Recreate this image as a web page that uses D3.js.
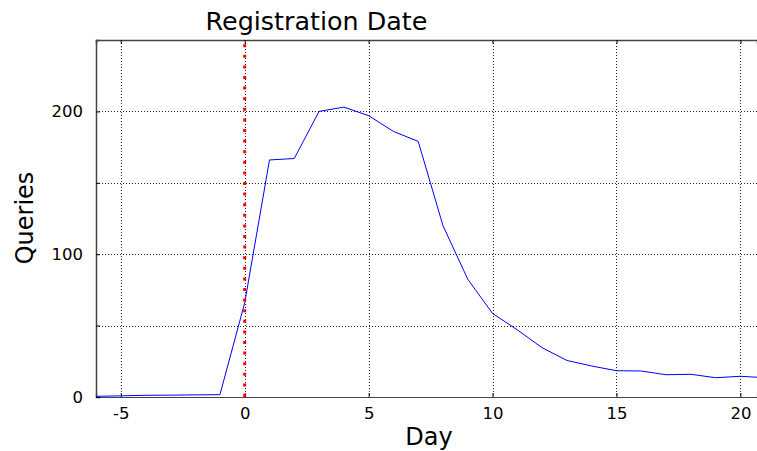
<!DOCTYPE html>
<html>
<head>
<meta charset="utf-8">
<script src="https://cdn.jsdelivr.net/npm/d3@7"></script>
<style>
  html, body { margin: 0; padding: 0; background: #fff; }
  svg { display: block; font-family: "DejaVu Sans", sans-serif; }
</style>
</head>
<body>
<svg id="chart" width="757" height="451"></svg>
<script>
// Data
const days = [-6, -5, -4, -3, -2, -1, 0, 1, 2, 3, 4, 5, 6, 7, 8, 9, 10, 11, 12, 13, 14, 15, 16, 17, 18, 19, 20, 21];
const queries = [0.5, 0.8, 1.2, 1.3, 1.5, 1.6, 66, 166, 167, 200, 203, 197, 186, 179, 120, 82.5, 58.5, 47, 34.5, 25.6, 21.7, 18.4, 18.2, 15.6, 15.9, 13.5, 14.5, 13.5];
const xTicks = [-5, 0, 5, 10, 15, 20];
const yTicks = [0, 50, 100, 150, 200];
const yTickLabels = ["0", "", "100", "", "200"];
const registrationDay = 0;
const xDomain = [-6, 20.67];
const yDomain = [0, 250];

const svg = d3.select("#chart");
const L = 96, R = 757, T = 40, B = 397;

const x = d3.scaleLinear().domain(xDomain).range([L, R]);
const y = d3.scaleLinear().domain(yDomain).range([B, T]);

svg.append("defs").append("clipPath").attr("id", "clip")
  .append("rect").attr("x", L).attr("y", T).attr("width", R - L).attr("height", B - T);

// Grid
const grid = svg.append("g");
grid.selectAll(".vg").data(xTicks).join("line")
  .attr("x1", d => Math.round(x(d)) + 0.5).attr("x2", d => Math.round(x(d)) + 0.5)
  .attr("y1", T).attr("y2", B)
  .attr("stroke", "#222").attr("stroke-width", 1).attr("stroke-dasharray", "1,2");
grid.selectAll(".hg").data(yTicks).join("line")
  .attr("x1", L).attr("x2", R)
  .attr("y1", d => Math.round(y(d)) + 0.5).attr("y2", d => Math.round(y(d)) + 0.5)
  .attr("stroke", "#222").attr("stroke-width", 1).attr("stroke-dasharray", "1,2");

// Axes (inward ticks)
const xAxisB = d3.axisBottom(x).tickValues(xTicks).tickSize(-4).tickPadding(10)
  .tickFormat(d => d3.format("d")(d).replace("−", "-"));
const gx = svg.append("g").attr("transform", `translate(0,${B})`).call(xAxisB);
gx.select(".domain").attr("stroke", "#444").attr("stroke-width", 1.2);
gx.selectAll(".tick line").attr("stroke", "#000");
gx.selectAll(".tick text").attr("font-size", 16.5).attr("fill", "#000")
  .attr("font-family", "DejaVu Sans");

const xAxisT = d3.axisTop(x).tickValues(xTicks).tickSize(-4).tickFormat("");
const gxt = svg.append("g").attr("transform", `translate(0,${T})`).call(xAxisT);
gxt.select(".domain").attr("stroke", "#444").attr("stroke-width", 1.5);
gxt.selectAll(".tick line").attr("stroke", "#000");

const yAxisL = d3.axisLeft(y).tickValues(yTicks).tickSize(-4).tickPadding(13)
  .tickFormat((d, i) => yTickLabels[i]);
const gy = svg.append("g").attr("transform", `translate(${L},0)`).call(yAxisL);
gy.select(".domain").attr("stroke", "#444").attr("stroke-width", 1.5);
gy.selectAll(".tick line").attr("stroke", "#000");
gy.selectAll(".tick text").attr("font-size", 16.5).attr("fill", "#000")
  .attr("font-family", "DejaVu Sans");

// Data line
const line = d3.line().x(d => x(d[0])).y(d => y(d[1]));
svg.append("path")
  .datum(days.map((d, i) => [d, queries[i]]))
  .attr("clip-path", "url(#clip)")
  .attr("fill", "none").attr("stroke", "blue").attr("stroke-width", 1)
  .attr("d", line);

// Registration date marker
svg.append("line")
  .attr("x1", x(registrationDay)).attr("x2", x(registrationDay))
  .attr("y1", y(yDomain[0])).attr("y2", y(yDomain[1]))
  .attr("stroke", "red").attr("stroke-width", 3)
  .attr("stroke-dasharray", "3,7.6");

// Titles
svg.append("text").attr("x", 316.5).attr("y", 30).attr("text-anchor", "middle")
  .attr("font-size", 25.4).attr("fill", "#000").text("Registration Date");
svg.append("text").attr("x", 429).attr("y", 445).attr("text-anchor", "middle")
  .attr("font-size", 24).attr("fill", "#000").text("Day");
svg.append("text").attr("transform", "translate(33,218) rotate(-90)")
  .attr("text-anchor", "middle")
  .attr("font-size", 24).attr("fill", "#000").text("Queries");
</script>
</body>
</html>
